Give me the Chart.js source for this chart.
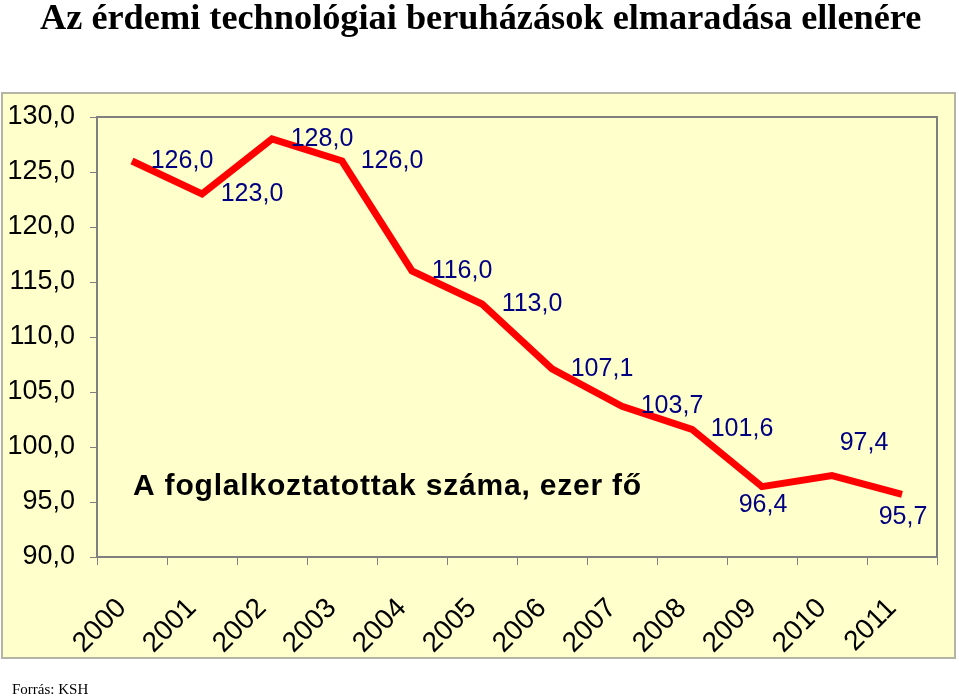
<!DOCTYPE html>
<html>
<head>
<meta charset="utf-8">
<script src="https://cdn.jsdelivr.net/npm/chart.js@4"></script>
<style>
html,body{margin:0;padding:0;background:#fff;}
#wrap{width:959px;height:697px;position:relative;}
</style>
</head>
<body>
<div id="wrap"><canvas id="c" width="959" height="697"></canvas></div>
<script>
// ---- data ----
const years = ['2000','2001','2002','2003','2004','2005','2006','2007','2008','2009','2010','2011'];
const employed = [126.0, 123.0, 128.0, 126.0, 116.0, 113.0, 107.1, 103.7, 101.6, 96.4, 97.4, 95.7];
const yTickValues = [90, 95, 100, 105, 110, 115, 120, 125, 130];
const titleText = 'Az érdemi technológiai beruházások elmaradása ellenére';
const seriesName = 'A foglalkoztatottak száma, ezer fő';
const sourceText = 'Forrás: KSH';

// ---- style / placement of data labels (pixels relative to each point) ----
const labelDefaultOffset = {dx: 50, dy: 0};
const labelOffsetOverride = {9: {dx: 1, dy: 19}, 10: {dx: 32, dy: -32}, 11: {dx: 1, dy: 23}};

const fmt = v => v.toFixed(1).replace('.', ',');
const SANS = '"Liberation Sans", Arial, sans-serif';
const SERIF = '"Liberation Serif", "Times New Roman", serif';

const framePlugin = {
  id: 'frame',
  beforeDraw(chart) {
    const ctx = chart.ctx;
    ctx.save();
    ctx.fillStyle = '#ffffff';
    ctx.fillRect(0, 0, chart.width, chart.height);
    // outer yellow panel
    ctx.fillStyle = '#FFFFCC';
    ctx.fillRect(2, 93, 953, 565);
    ctx.strokeStyle = '#B4B4A4';
    ctx.lineWidth = 2;
    ctx.strokeRect(2, 93, 953, 565);
    // title
    ctx.fillStyle = '#000000';
    ctx.font = 'bold 36.3px ' + SERIF;
    ctx.textAlign = 'left';
    ctx.textBaseline = 'alphabetic';
    ctx.fillText(titleText, 40, 29);
    // source
    ctx.font = '15px ' + SERIF;
    ctx.fillText(sourceText, 12, 694);
    ctx.restore();
  },
  afterDraw(chart) {
    const ctx = chart.ctx;
    const a = chart.chartArea;
    ctx.save();
    ctx.strokeStyle = '#808080';
    ctx.lineWidth = 2;
    ctx.strokeRect(a.left, a.top, a.right - a.left, a.bottom - a.top);
    ctx.restore();
  }
};

const labelPlugin = {
  id: 'pointLabels',
  afterDatasetsDraw(chart) {
    const ctx = chart.ctx;
    const meta = chart.getDatasetMeta(0);
    ctx.save();
    ctx.font = '25px ' + SANS;
    ctx.fillStyle = '#000080';
    ctx.textAlign = 'center';
    ctx.textBaseline = 'middle';
    meta.data.forEach((pt, i) => {
      const o = labelOffsetOverride[i] || labelDefaultOffset;
      ctx.fillText(fmt(chart.data.datasets[0].data[i]), pt.x + o.dx, pt.y + o.dy);
    });
    // series name text box
    const a = chart.chartArea;
    ctx.font = 'bold 30px ' + SANS;
    ctx.fillStyle = '#000000';
    ctx.textAlign = 'left';
    try { ctx.letterSpacing = '0.8px'; } catch (e) {}
    ctx.fillText(seriesName, a.left + 36, 487);
    ctx.restore();
  }
};

new Chart(document.getElementById('c'), {
  type: 'line',
  data: {
    labels: years,
    datasets: [{
      label: seriesName,
      data: employed,
      borderColor: '#FF0000',
      borderWidth: 7,
      pointRadius: 0,
      tension: 0,
      fill: false,
      borderJoinStyle: 'miter',
      clip: false
    }]
  },
  options: {
    responsive: false,
    animation: false,
    devicePixelRatio: 1,
    layout: {padding: {top: 117, left: 0, right: 22, bottom: 0}},
    plugins: {legend: {display: false}, tooltip: {enabled: false}, title: {display: false}},
    scales: {
      x: {
        type: 'category',
        offset: true,
        grid: {display: true, drawOnChartArea: false, drawTicks: true, tickLength: 8, color: '#808080', offset: true},
        border: {display: false},
        ticks: {
          color: '#000000',
          font: {family: SANS, size: 28},
          minRotation: 45,
          maxRotation: 45,
          autoSkip: false,
          padding: 27,
          labelOffset: -10
        },
        afterFit(s) { s.height = 140; }
      },
      y: {
        min: 90,
        max: 130,
        afterBuildTicks(s) { s.ticks = yTickValues.map(v => ({value: v})); },
        grid: {display: true, drawOnChartArea: false, drawTicks: true, tickLength: 7, color: '#808080'},
        border: {display: false},
        ticks: {
          color: '#000000',
          font: {family: SANS, size: 27},
          padding: 15,
          callback: v => fmt(v)
        },
        afterFit(s) { s.width = 97; }
      }
    }
  },
  plugins: [framePlugin, labelPlugin]
});
</script>
</body>
</html>
